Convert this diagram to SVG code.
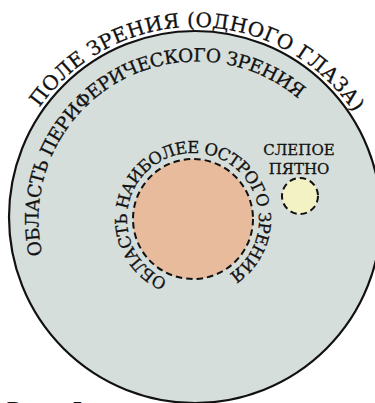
<svg xmlns="http://www.w3.org/2000/svg" width="375" height="403" viewBox="0 0 375 403">
<style>
.t{font-family:"DejaVu Serif","Liberation Serif",serif;fill:#111;stroke:#111;stroke-width:0.3}
.dash{stroke:#111;stroke-width:2;stroke-dasharray:6.5 4}
</style>
<defs>
<path id="pOuter" d="M5,217 A190,190 0 0 1 385,217"/>
<path id="pPeri" d="M58.2,296 A158,158 0 0 1 331.8,138"/>
<path id="pInner" d="M193,285 A66,66 0 1 1 193,153 A66,66 0 1 1 193,285"/>
</defs>
<rect width="375" height="403" fill="#fff"/>
<g id="field">
<circle cx="195" cy="217" r="186" fill="#d5dedb" stroke="#111" stroke-width="2.2"/>
<text class="t" font-size="20"><textPath href="#pOuter" startOffset="50.5%" text-anchor="middle" textLength="370" lengthAdjust="spacing">ПОЛЕ ЗРЕНИЯ (ОДНОГО ГЛАЗА)</textPath></text>
<text class="t" font-size="18.5"><textPath href="#pPeri" startOffset="44" textLength="395" lengthAdjust="spacing">ОБЛАСТЬ ПЕРИФЕРИЧЕСКОГО ЗРЕНИЯ</textPath></text>
</g>
<g id="fovea">
<circle class="dash" cx="193" cy="219" r="60" fill="#e8bb9d"/>
<text class="t" font-size="16.5"><textPath href="#pInner" startOffset="26" textLength="350" lengthAdjust="spacing">ОБЛАСТЬ НАИБОЛЕЕ ОСТРОГО ЗРЕНИЯ</textPath></text>
</g>
<g id="blindspot">
<circle class="dash" cx="300" cy="196" r="18" fill="#f3f2c4"/>
<text class="t" font-size="15" text-anchor="middle"><tspan x="299" y="155">СЛЕПОЕ</tspan><tspan x="299" y="174">ПЯТНО</tspan></text>
</g>
<g id="caption">
<text font-family="'Liberation Serif',serif" font-weight="bold" font-size="22" fill="#111" y="416"><tspan x="7">Рис.</tspan><tspan x="72">5</tspan></text>
</g>
</svg>
